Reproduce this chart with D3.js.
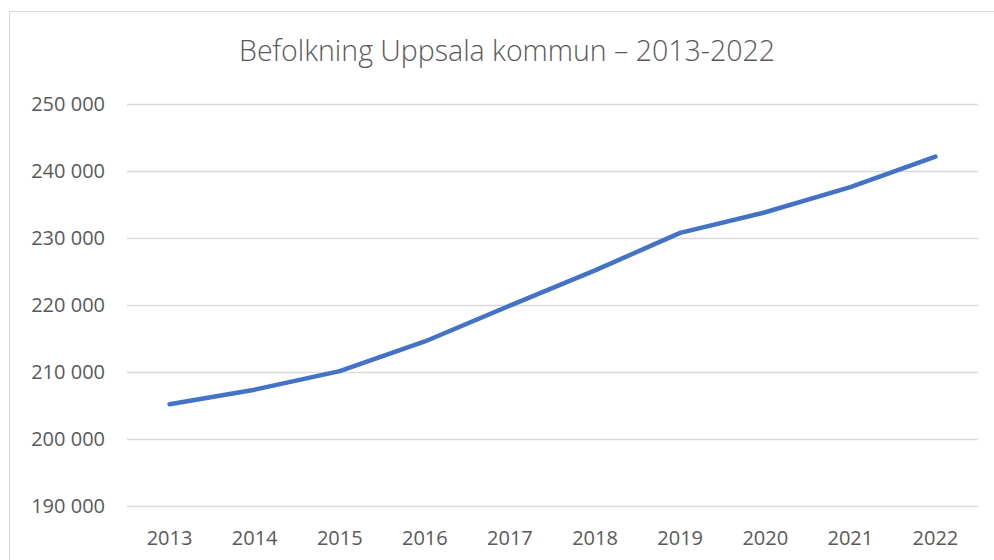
<!DOCTYPE html>
<html>
<head>
<meta charset="utf-8">
<script src="https://cdn.jsdelivr.net/npm/d3@7"></script>
<style>
  body { margin: 0; background: #fff; }
  svg { display: block; }
  text { font-family: "Open Sans", "Noto Sans", sans-serif; fill: #595959; }
</style>
</head>
<body>
<svg id="chart" width="994" height="560"></svg>
<script>
// data
var years = ["2013", "2014", "2015", "2016", "2017", "2018", "2019", "2020", "2021", "2022"];
var population = [205199, 207362, 210126, 214559, 219914, 225164, 230767, 233839, 237596, 242140];
var yTicks = [190000, 200000, 210000, 220000, 230000, 240000, 250000];
var title = "Befolkning Uppsala kommun \u2013 2013-2022";

var svg = d3.select("#chart");

// chart area border (runs past right and bottom edge)
svg.append("rect")
  .attr("x", 9.5).attr("y", 11.5)
  .attr("width", 1000).attr("height", 600)
  .style("fill", "#fff")
  .style("stroke", "#d9d9d9")
  .style("stroke-width", 1);

var plotL = 127, plotR = 978, plotT = 104, plotB = 506;

var x = d3.scaleBand().domain(years).range([plotL, plotR]);
var y = d3.scaleLinear().domain([190000, 250000]).range([plotB, plotT]);

var fmt = function(v){ return d3.format(",")(v).replace(/,/g, " "); };

// gridlines
svg.append("g").selectAll("line")
  .data(yTicks)
  .enter().append("line")
    .attr("x1", plotL).attr("x2", plotR)
    .attr("y1", function(d){ return Math.round(y(d)) + 0.5; })
    .attr("y2", function(d){ return Math.round(y(d)) + 0.5; })
    .style("stroke", "#d9d9d9")
    .style("stroke-width", 1.3);

// y labels
svg.append("g").selectAll("text")
  .data(yTicks)
  .enter().append("text")
    .attr("x", 105)
    .attr("y", function(d){ return y(d); })
    .attr("dy", "0.35em")
    .attr("text-anchor", "end")
    .attr("font-size", "20px")
    .text(fmt);

// x labels
svg.append("g").selectAll("text")
  .data(years)
  .enter().append("text")
    .attr("x", function(d){ return x(d) + x.bandwidth() / 2; })
    .attr("y", 538)
    .attr("dy", "0.35em")
    .attr("text-anchor", "middle")
    .attr("font-size", "20px")
    .text(function(d){ return d; });

// line
var line = d3.line()
  .x(function(d, i){ return x(years[i]) + x.bandwidth() / 2; })
  .y(function(d){ return y(d); });

svg.append("path")
  .datum(population)
  .attr("d", line)
  .style("fill", "none")
  .style("stroke", "#4472c4")
  .style("stroke-width", 4.5)
  .style("stroke-linecap", "round")
  .style("stroke-linejoin", "round");

// title
svg.append("text")
  .attr("x", 507)
  .attr("y", 51)
  .attr("dy", "0.35em")
  .attr("text-anchor", "middle")
  .attr("font-size", "28.5px")
  .attr("font-weight", 300)
  .text(title);
</script>
</body>
</html>
